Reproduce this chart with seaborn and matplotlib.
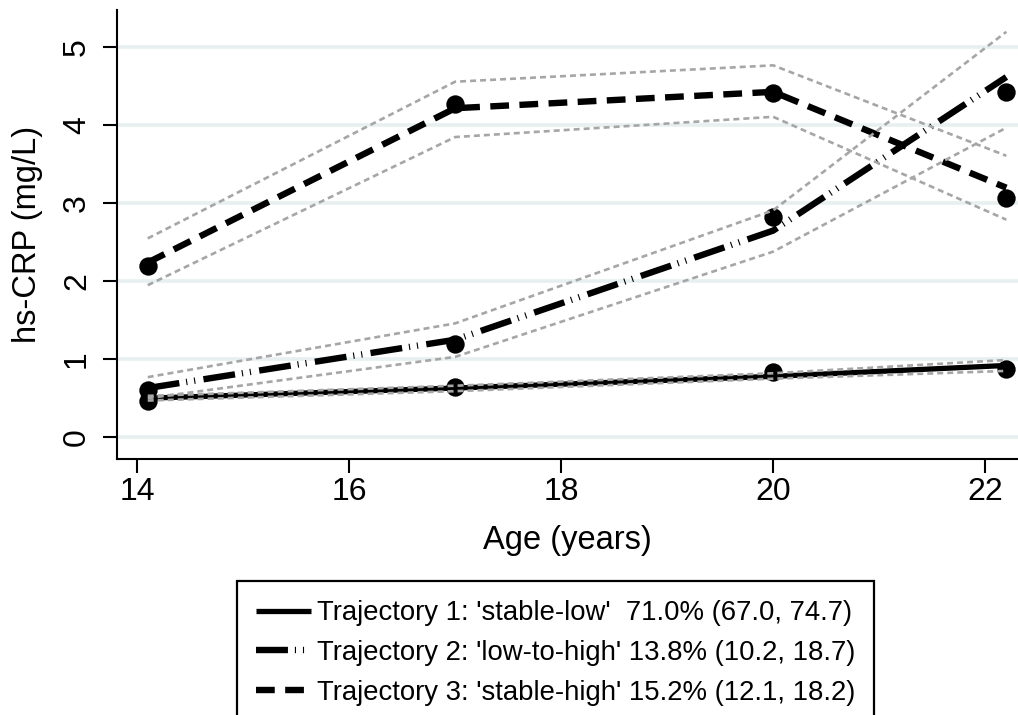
import matplotlib
matplotlib.use("Agg")
import matplotlib.pyplot as plt
from matplotlib.lines import Line2D
import seaborn as sns
import pandas as pd

# Mean age at each follow-up wave
age = [14.1, 17.0, 20.0, 22.2]

# Observed means (dots)
t1_obs = [0.46, 0.65, 0.84, 0.88]
t2_obs = [0.60, 1.19, 2.83, 4.43]
t3_obs = [2.19, 4.28, 4.41, 3.07]

# Estimated trajectories
t1_fit = [0.50, 0.63, 0.78, 0.92]
t2_fit = [0.63, 1.25, 2.65, 4.62]
t3_fit = [2.24, 4.22, 4.43, 3.20]

# 95% confidence bands
t1_lo = [0.47, 0.59, 0.75, 0.85]
t1_hi = [0.53, 0.66, 0.82, 0.99]
t2_lo = [0.50, 1.03, 2.38, 3.97]
t2_hi = [0.77, 1.46, 2.91, 5.20]
t3_lo = [1.95, 3.85, 4.11, 2.79]
t3_hi = [2.55, 4.56, 4.77, 3.61]

labels = [
    "Trajectory 1: 'stable-low'  71.0% (67.0, 74.7)",
    "Trajectory 2: 'low-to-high' 13.8% (10.2, 18.7)",
    "Trajectory 3: 'stable-high' 15.2% (12.1, 18.2)",
]

y_ticks = [0, 1, 2, 3, 4, 5]
x_ticks = [14, 16, 18, 20, 22]

sns.set_theme(style="white")
plt.rcParams["font.family"] = ["Liberation Sans", "DejaVu Sans"]
plt.rcParams["lines.scale_dashes"] = False
plt.rcParams["text.color"] = "black"
plt.rcParams["axes.labelcolor"] = "black"
plt.rcParams["xtick.color"] = "black"
plt.rcParams["ytick.color"] = "black"

W, H = 1018, 715
fig = plt.figure(figsize=(W / 100, H / 100), dpi=100)
ax = fig.add_axes([117 / W, 1 - 459 / H, 1 - 117 / W, 449 / H])

styles = [
    dict(linestyle="-", linewidth=3.8),
    dict(linestyle=(0, (23, 5, 0.8, 5, 0.8, 6)), linewidth=4.6),
    dict(linestyle=(0, (13.5, 7.5)), linewidth=4.6),
]
ci_style = dict(color="#a6a6a6", linestyle=(0, (4.3, 2.9)), linewidth=1.9)

obs = [t1_obs, t2_obs, t3_obs]
fits = [t1_fit, t2_fit, t3_fit]
bands = [(t1_lo, t1_hi), (t2_lo, t2_hi), (t3_lo, t3_hi)]

for i in range(3):
    sns.scatterplot(x=age, y=obs[i], color="black", s=175, linewidth=0,
                    ax=ax, zorder=2, legend=False)
    sns.lineplot(x=age, y=fits[i], color="black", ax=ax, zorder=3,
                 sort=False, legend=False, **styles[i])
    for band in bands[i]:
        sns.lineplot(x=age, y=band, ax=ax, zorder=4, sort=False,
                     legend=False, **ci_style)

ax.set_xlim(13.81, 22.31)
ax.set_ylim(-0.28, 5.48)
ax.set_xticks(x_ticks)
ax.set_yticks(y_ticks)
ax.set_xticklabels([str(v) for v in x_ticks])
ax.set_yticklabels([str(v) for v in y_ticks])

ax.yaxis.grid(True, color="#e7eff0", linewidth=2.6)
ax.xaxis.grid(False)
ax.set_axisbelow(True)

for side in ["top", "right"]:
    ax.spines[side].set_visible(False)
for side in ["left", "bottom"]:
    ax.spines[side].set_color("black")
    ax.spines[side].set_linewidth(1.5)

ax.tick_params(axis="both", which="major", bottom=True, left=True,
               direction="out", length=10, width=1.5, labelsize=23)
ax.tick_params(axis="x", pad=3)
ax.tick_params(axis="y", pad=8)
plt.setp(ax.get_yticklabels(), rotation=90, va="center")

ax.set_xlabel("Age (years)", fontsize=23.5)
ax.set_ylabel("hs-CRP (mg/L)", fontsize=23.5)
ax.xaxis.set_label_coords(0.5, -0.147)
ax.yaxis.set_label_coords(-0.082, 0.5)

handles = [Line2D([0], [0], color="black", solid_capstyle="butt",
                  dash_capstyle="butt", **st) for st in styles]
leg = fig.legend(handles, labels, loc="upper left",
                 bbox_to_anchor=(237 / W, 1 - 581 / H),
                 fontsize=19.8, frameon=True, fancybox=False,
                 borderpad=0.7, labelspacing=0.5, handlelength=2.0,
                 handletextpad=0.2, borderaxespad=0)
frame = leg.get_frame()
frame.set_edgecolor("black")
frame.set_linewidth(1.6)
frame.set_facecolor("white")
frame.set_alpha(1)

fig.savefig("out.png", dpi=100)
